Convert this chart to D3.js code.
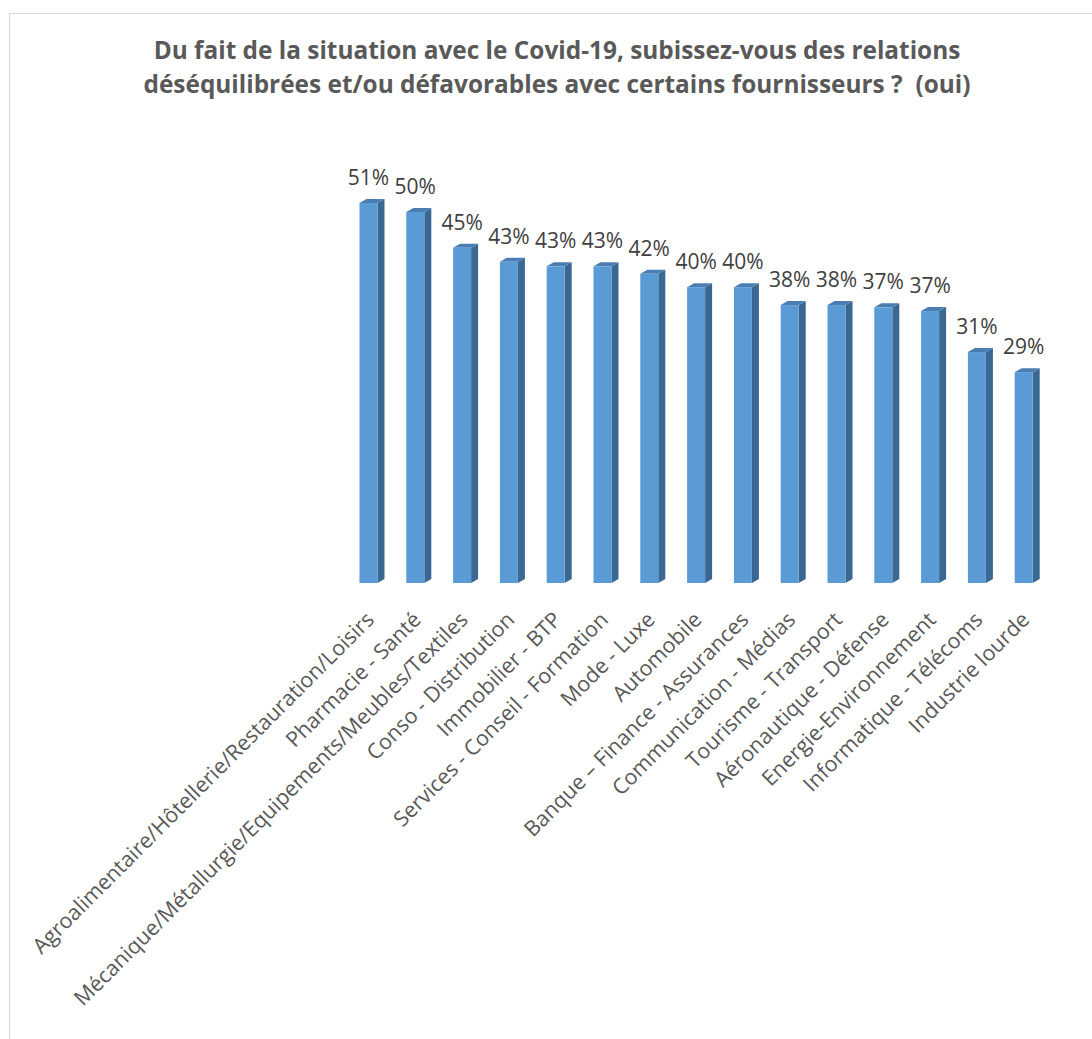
<!DOCTYPE html>
<html>
<head>
<meta charset="utf-8">
<script src="https://cdn.jsdelivr.net/npm/d3@7"></script>
<style>
  body { margin: 0; background: #fff; }
  svg { display: block; }
</style>
</head>
<body>
<div id="chart"></div>
<script>
// secteurs, dans l'ordre du graphique
var categories = [
  "Agroalimentaire/Hôtellerie/Restauration/Loisirs",
  "Pharmacie - Santé",
  "Mécanique/Métallurgie/Equipements/Meubles/Textiles",
  "Conso - Distribution",
  "Immobilier - BTP",
  "Services - Conseil - Formation",
  "Mode - Luxe",
  "Automobile",
  "Banque – Finance - Assurances",
  "Communication - Médias",
  "Tourisme - Transport",
  "Aéronautique - Défense",
  "Energie-Environnement",
  "Informatique - Télécoms",
  "Industrie lourde"
];
var values = [51.0, 49.8, 45.0, 43.1, 42.5, 42.5, 41.5, 39.7, 39.7, 37.3, 37.3, 37.0, 36.5, 31.0, 28.3];
// étiquettes affichées
var valueLabels = ["51%", "50%", "45%", "43%", "43%", "43%", "42%", "40%", "40%", "38%", "38%", "37%", "37%", "31%", "29%"];
var titleLines = [
  "Du fait de la situation avec le Covid-19, subissez-vous des relations",
  "déséquilibrées et/ou défavorables avec certains fournisseurs ?  (oui)"
];

var width = 1092, height = 1039;
var baseY = 583, depth = 7, rise = 4;

var svg = d3.select("#chart").append("svg")
    .attr("width", width)
    .attr("height", height);

// cadre (coupé à droite et en bas)
svg.append("path")
    .attr("d", "M9.5," + height + "V13.5H" + width)
    .attr("fill", "none")
    .attr("stroke", "#d9d9d9")
    .attr("stroke-width", 1.2);

svg.selectAll(".title")
    .data(titleLines)
  .enter().append("text")
    .attr("class", "title")
    .attr("x", 557)
    .attr("y", function(d, i) { return 59 + i * 34; })
    .attr("text-anchor", "middle")
    .attr("font-family", "'Open Sans', sans-serif")
    .attr("font-weight", "bold")
    .attr("font-size", "24.4px")
    .attr("fill", "#595959")
    .style("white-space", "pre")
    .text(function(d) { return d; });

var x = d3.scaleBand()
    .domain(categories)
    .range([345.1, 1047.1])
    .paddingInner(0.615)
    .paddingOuter(0.3075);

var y = d3.scaleLinear()
    .domain([0, 51])
    .range([baseY, 203]);

var data = categories.map(function(c, i) { return {cat: c, v: values[i], lab: valueLabels[i]}; });

var bar = svg.selectAll(".bar")
    .data(data)
  .enter().append("g")
    .attr("class", "bar");

// face latérale
bar.append("path")
    .attr("fill", "#3b6793")
    .attr("d", function(d) {
      var x1 = x(d.cat) + x.bandwidth(), t = y(d.v);
      return "M" + x1 + "," + t + "L" + (x1 + depth) + "," + (t - rise) +
             "L" + (x1 + depth) + "," + (baseY - rise) + "L" + x1 + "," + baseY + "Z";
    });
// dessus
bar.append("path")
    .attr("fill", "#4a7db2")
    .attr("d", function(d) {
      var x0 = x(d.cat), x1 = x0 + x.bandwidth(), t = y(d.v);
      return "M" + x0 + "," + t + "L" + (x0 + depth) + "," + (t - rise) +
             "L" + (x1 + depth) + "," + (t - rise) + "L" + x1 + "," + t + "Z";
    });
// face avant
bar.append("rect")
    .attr("x", function(d) { return x(d.cat); })
    .attr("y", function(d) { return y(d.v); })
    .attr("width", x.bandwidth())
    .attr("height", function(d) { return baseY - y(d.v); })
    .attr("fill", "#5b9bd5");

bar.append("text")
    .attr("x", function(d) { return x(d.cat) + x.bandwidth() / 2; })
    .attr("y", function(d) { return y(d.v) - rise - 14; })
    .attr("text-anchor", "middle")
    .attr("font-family", "'Open Sans', sans-serif")
    .attr("font-size", "21px")
    .attr("fill", "#404040")
    .text(function(d) { return d.lab; });

// étiquettes de l'axe
svg.selectAll(".tick-label")
    .data(categories)
  .enter().append("text")
    .attr("class", "tick-label")
    .attr("text-anchor", "end")
    .attr("transform", function(d) {
      return "translate(" + (x(d) + x.bandwidth() / 2 + 7) + ",621) rotate(-45)";
    })
    .attr("font-family", "'Open Sans', sans-serif")
    .attr("font-size", "21.4px")
    .attr("fill", "#595959")
    .text(function(d) { return d; });
</script>
</body>
</html>
